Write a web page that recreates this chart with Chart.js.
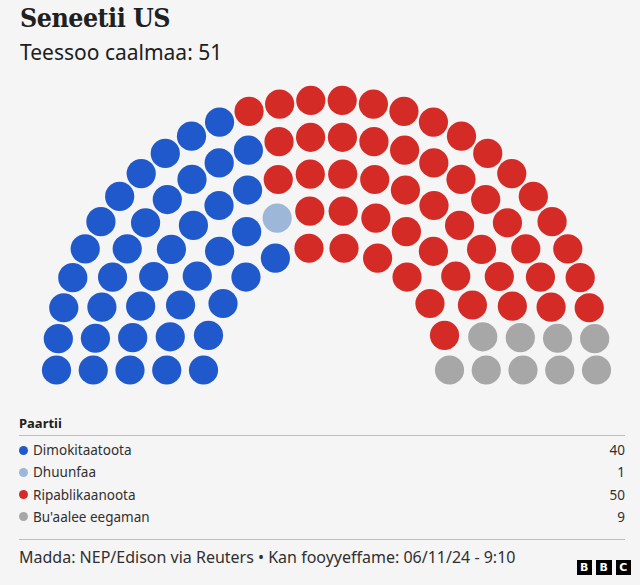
<!DOCTYPE html>
<html>
<head>
<meta charset="utf-8">
<script src="https://cdn.jsdelivr.net/npm/chart.js@4"></script>
<style>
  html, body { margin: 0; padding: 0; background: #f5f5f5; }
  body { width: 640px; height: 585px; position: relative; overflow: hidden; color: #202020; font-family: "Noto Sans", sans-serif; }
  #title { position: absolute; left: 20px; top: 0px; font-family: "DejaVu Serif Condensed", "DejaVu Serif", serif; font-stretch: condensed; font-weight: bold; font-size: 26.5px; letter-spacing: -0.5px; line-height: 36px; color: #202020; }
  #subtitle { position: absolute; left: 20px; top: 38px; font-size: 21px; line-height: 28px; color: #202020; }
  #seats { position: absolute; left: 0; top: 70px; }
  #legend { position: absolute; left: 19px; top: 412px; width: 606px; }
  #legend .head { font-weight: bold; font-size: 13px; line-height: 22px; border-bottom: 1px solid #bdbdbd; padding-bottom: 1px; }
  #legend .row { position: relative; height: 22.3px; line-height: 22.3px; font-size: 13.5px; color: #303030; }
  #legend .row:nth-child(2) { margin-top: 3px; }
  #legend .dot { position: absolute; left: 0; top: 6.5px; width: 9px; height: 9px; border-radius: 50%; }
  #legend .lab { position: absolute; left: 14px; }
  #legend .val { position: absolute; right: 0; }
  #foot { position: absolute; left: 19px; top: 539px; width: 606px; border-top: 1px solid #bdbdbd; }
  #source { position: absolute; left: 0; top: 7px; font-size: 16px; line-height: 20px; color: #303030; white-space: nowrap; }
  #bbc { position: absolute; right: -6px; top: 20px; display: flex; gap: 4px; }
  #bbc span { width: 15.5px; height: 15px; background: #000; color: #fff; font: bold 11px/15px "DejaVu Sans", sans-serif; text-align: center; }
</style>
</head>
<body>
<div id="title">Seneetii US</div>
<div id="subtitle">Teessoo caalmaa: 51</div>
<canvas id="seats" width="640" height="340"></canvas>
<div id="legend"></div>
<div id="foot">
  <div id="source">Madda: NEP/Edison via Reuters • Kan fooyyeffame: 06/11/24 - 9:10</div>
  <div id="bbc"><span>B</span><span>B</span><span>C</span></div>
</div>
<script>
// parties in seating order, left to right
var parties = ["Dimokitaatoota", "Dhuunfaa", "Ripablikaanoota", "Bu'aalee eegaman"];
var seats = [40, 1, 50, 9];
// seats per row, inner row first (total 100)
var rowSeats = [12, 16, 20, 24, 28];

var colors = ["#1f59cb", "#9db7d9", "#d52b27", "#a7a7a7"];

// hemicycle geometry (pixels)
var innerRadius = 123;
var rowGap = 36.75;
var dotRadius = 14.6;

// build seat list: every seat on every row, ordered by angle from the left
var allSeats = [];
rowSeats.forEach(function (n, r) {
  var radius = innerRadius + r * rowGap;
  for (var j = 0; j < n; j++) {
    var frac = j / (n - 1);
    allSeats.push({ frac: frac, row: r, radius: radius });
  }
});
allSeats.sort(function (a, b) { return a.frac - b.frac || a.row - b.row; });

var datasets = [];
var k = 0;
parties.forEach(function (name, p) {
  var pts = [];
  for (var i = 0; i < seats[p]; i++) {
    var s = allSeats[k++];
    var ang = Math.PI * (1 - s.frac);
    pts.push({ x: s.radius * Math.cos(ang), y: s.radius * Math.sin(ang) });
  }
  datasets.push({
    label: name,
    data: pts,
    backgroundColor: colors[p],
    borderWidth: 0,
    pointRadius: dotRadius,
    pointHoverRadius: dotRadius,
    clip: false
  });
});

// centre of the hemicycle sits at (326.5, 370) on the page; canvas top is 70
var canvasElement = document.getElementById("seats");
var config = {
  type: "scatter",
  data: { datasets: datasets },
  options: {
    responsive: false,
    animation: false,
    events: [],
    layout: { padding: 0, autoPadding: false },
    plugins: { legend: { display: false }, tooltip: { enabled: false } },
    scales: {
      x: { type: "linear", display: false, min: -326.5, max: 313.5 },
      y: { type: "linear", display: false, min: -40, max: 300 }
    }
  }
};
var seatChart = new Chart(canvasElement, config);

// legend table
var legend = document.getElementById("legend");
var html = '<div class="head">Paartii</div>';
parties.forEach(function (name, p) {
  html += '<div class="row"><span class="dot" style="background:' + colors[p] + '"></span>' +
    '<span class="lab">' + name + '</span><span class="val">' + seats[p] + '</span></div>';
});
legend.innerHTML = html;
</script>
</body>
</html>
